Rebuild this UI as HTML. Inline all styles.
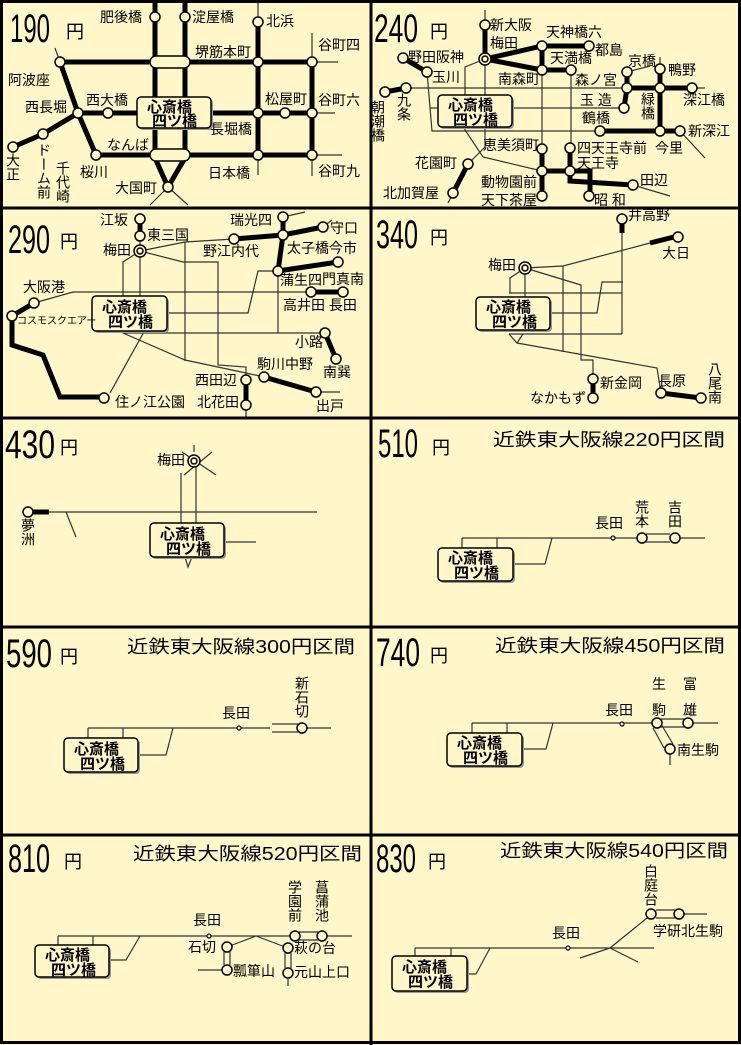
<!DOCTYPE html>
<html><head><meta charset="utf-8"><style>
html,body{margin:0;padding:0;background:#fff6c9}
svg{display:block}
text{font-family:"Liberation Sans","Noto Sans CJK JP",sans-serif;font-size:14px;fill:#000}
.v{writing-mode:vertical-rl}
.t{stroke:#000;stroke-width:5;fill:none;stroke-linejoin:miter}
.n{stroke:#333;stroke-width:1.2;fill:none}
.c{fill:#fff6c9;stroke:#000;stroke-width:1.5}
.big{font-size:40px}
.yen{font-size:18px}
.ti{font-size:18px}
.bx{font-weight:bold;font-size:15px}
.d{fill:#fff6c9;stroke:#000;stroke-width:1.2}
</style></head><body>
<svg width="741" height="1045" viewBox="0 0 741 1045" xmlns="http://www.w3.org/2000/svg">
<rect x="0" y="0" width="741" height="1045" fill="#fff6c9"/>

<!-- ===== 190 ===== -->
<g>
<path class="n" d="M258,0V22M258,155V175M312,33V62M312,155V176M312,62H338M312,113H335M312,155H342M55,48L60,62M168,187L150,205M168,187L188,205"/>
<path class="t" d="M155,0V155M185,0V155M258,22V155M312,62V155M60,62H312M78,113H312M96,155H312M60,62L78,113L96,155M78,113L43,134L13,147M155,158L168,187L185,158"/>
<rect x="150" y="56" width="40" height="12" rx="6" class="c"/>
<rect x="150" y="149" width="40" height="12" rx="6" class="c"/>
<g class="c"><circle cx="155" cy="17" r="5"/><circle cx="185" cy="17" r="5"/><circle cx="258" cy="22" r="5"/><circle cx="60" cy="62" r="5"/><circle cx="258" cy="62" r="5"/><circle cx="312" cy="62" r="5"/><circle cx="78" cy="113" r="5"/><circle cx="108" cy="113" r="5"/><circle cx="258" cy="113" r="5"/><circle cx="285" cy="113" r="5"/><circle cx="312" cy="113" r="5"/><circle cx="96" cy="155" r="5"/><circle cx="258" cy="155" r="5"/><circle cx="312" cy="155" r="5"/><circle cx="13" cy="147" r="5"/><circle cx="43" cy="134" r="5"/><circle cx="168" cy="187" r="5"/></g>
<g transform="translate(137,97)"><rect x="2" y="2" width="74" height="31" rx="4" fill="#999"/><rect x="0" y="0" width="74" height="31" rx="4" class="c"/><text x="10" y="15" class="bx">心斎橋</text><text x="15" y="29" class="bx">四ツ橋</text></g>
<text x="10" y="42" class="big" textLength="40" lengthAdjust="spacingAndGlyphs">190</text>
<text x="66" y="38" class="yen">円</text>
<text x="100" y="22">肥後橋</text><text x="192" y="22">淀屋橋</text><text x="266" y="26">北浜</text>
<text x="195" y="57">堺筋本町</text><text x="318" y="50">谷町四</text><text x="8" y="85">阿波座</text>
<text x="25" y="112">西長堀</text><text x="86" y="105">西大橋</text><text x="265" y="104">松屋町</text>
<text x="318" y="105">谷町六</text><text x="210" y="134">長堀橋</text><text x="107" y="150">なんば</text>
<text x="208" y="178">日本橋</text><text x="318" y="176">谷町九</text><text x="80" y="177">桜川</text><text x="115" y="193">大国町</text>
<text x="13" y="153" class="v">大正</text><text x="44" y="143" class="v">ドーム前</text><text x="63" y="161" class="v">千代崎</text>
</g>

<!-- ===== 240 ===== -->
<g>
<path class="n" d="M485,10V25M406,88H705M427,72L432,131H600M430,108H624M485,59V147L468,164M485,59L465,67V130L483,157L542,171M542,70V149M571,70V148M680,131L705,158M627,72L650,66M660,69V57M633,185L670,196M453,193L448,203"/>
<path class="t" d="M485,25V59M485,59L542,46H589M485,59L542,70H571M542,46V70M403,58L427,72M385,92L406,88M627,72V88L624,108M660,69V131M627,88H692M600,131H680M542,149V196M570,148V171M542,171H590V196M570,171V181L633,185M468,164L453,193"/>
<g class="c"><circle cx="485" cy="25" r="5"/><circle cx="485" cy="59" r="6"/><circle cx="485" cy="59" r="3"/><circle cx="542" cy="46" r="5"/><circle cx="589" cy="46" r="5"/><circle cx="542" cy="70" r="5"/><circle cx="571" cy="70" r="5"/><circle cx="403" cy="58" r="5"/><circle cx="427" cy="72" r="5"/><circle cx="406" cy="88" r="5"/><circle cx="385" cy="92" r="5"/><circle cx="627" cy="72" r="5"/><circle cx="660" cy="69" r="5"/><circle cx="627" cy="88" r="5"/><circle cx="660" cy="88" r="5"/><circle cx="692" cy="88" r="5"/><circle cx="624" cy="108" r="5"/><circle cx="600" cy="131" r="5"/><circle cx="660" cy="131" r="5"/><circle cx="680" cy="131" r="5"/><circle cx="542" cy="149" r="5"/><circle cx="542" cy="171" r="5"/><circle cx="542" cy="196" r="5"/><circle cx="570" cy="148" r="5"/><circle cx="570" cy="171" r="5"/><circle cx="589" cy="196" r="5"/><circle cx="633" cy="185" r="5"/><circle cx="468" cy="164" r="5"/><circle cx="453" cy="193" r="5"/></g>
<g transform="translate(438,95)"><rect x="2" y="2" width="74" height="32" rx="4" fill="#999"/><rect x="0" y="0" width="74" height="32" rx="4" class="c"/><text x="10" y="15" class="bx">心斎橋</text><text x="15" y="30" class="bx">四ツ橋</text></g>
<text x="374" y="42" class="big" textLength="44" lengthAdjust="spacingAndGlyphs">240</text>
<text x="430" y="38" class="yen">円</text>
<text x="490" y="30">新大阪</text><text x="490" y="48">梅田</text><text x="546" y="37">天神橋六</text><text x="595" y="55">都島</text>
<text x="550" y="63">天満橋</text><text x="628" y="66">京橋</text><text x="668" y="75">鴨野</text><text x="408" y="62">野田阪神</text>
<text x="432" y="82">玉川</text><text x="498" y="84">南森町</text><text x="575" y="85">森ノ宮</text>
<text x="404" y="93" class="v">九条</text><text x="378" y="100" class="v">朝潮橋</text>
<text x="580" y="105">玉 造</text><text x="648" y="92" class="v">緑橋</text><text x="683" y="105">深江橋</text>
<text x="582" y="123">鶴橋</text><text x="688" y="136">新深江</text><text x="483" y="150">恵美須町</text>
<text x="577" y="153">四天王寺前</text><text x="655" y="153">今里</text><text x="577" y="168">天王寺</text>
<text x="640" y="185">田辺</text><text x="415" y="168">花園町</text><text x="481" y="187">動物園前</text>
<text x="383" y="198">北加賀屋</text><text x="481" y="205">天下茶屋</text><text x="594" y="205">昭 和</text>
</g>

<!-- ===== 290 ===== -->
<g>
<path class="n" d="M140,236V251M283,217L305,212M323,227L332,220M246,405V418M316,392H340M140,251L185,242L234,239M140,251L183,262H218V365L246,367V380M185,242V361M140,251L123,262V333L185,360L246,373L264,377M123,333H325M168,313H248L258,271H278M278,271V333M145,330L110,393M34,303L73,292H311M140,251V296"/>
<path class="t" d="M140,219V236M234,239L283,235L323,227M283,217V235L278,271L338,262M311,292H343M325,333L336,359M264,377L316,392M246,380V405M34,303L12,316V345L43,355L60,397H104"/>
<g class="c"><circle cx="140" cy="219" r="5"/><circle cx="140" cy="236" r="5"/><circle cx="140" cy="251" r="6"/><circle cx="140" cy="251" r="3"/><circle cx="283" cy="217" r="5"/><circle cx="283" cy="235" r="5"/><circle cx="323" cy="227" r="5"/><circle cx="234" cy="239" r="5"/><circle cx="278" cy="271" r="5"/><circle cx="338" cy="262" r="5"/><circle cx="311" cy="292" r="5"/><circle cx="343" cy="292" r="5"/><circle cx="325" cy="333" r="5"/><circle cx="336" cy="359" r="5"/><circle cx="264" cy="377" r="5"/><circle cx="316" cy="392" r="5"/><circle cx="246" cy="380" r="5"/><circle cx="246" cy="405" r="5"/><circle cx="34" cy="303" r="5"/><circle cx="12" cy="316" r="5"/><circle cx="104" cy="398" r="5"/></g>
<g transform="translate(92,296)"><rect x="2" y="2" width="75" height="35" rx="4" fill="#999"/><rect x="0" y="0" width="75" height="35" rx="4" class="c"/><text x="10" y="16" class="bx">心斎橋</text><text x="16" y="31" class="bx">四ツ橋</text></g>
<text x="8" y="253" class="big" textLength="42" lengthAdjust="spacingAndGlyphs">290</text>
<text x="60" y="248" class="yen">円</text>
<text x="100" y="225">江坂</text><text x="147" y="240">東三国</text><text x="103" y="255">梅田</text>
<text x="230" y="225">瑞光四</text><text x="330" y="233">守口</text><text x="203" y="256">野江内代</text>
<text x="287" y="253">太子橋今市</text><text x="280" y="285">蒲生四</text><text x="322" y="284">門真南</text>
<text x="23" y="292">大阪港</text><text x="283" y="310">高井田 長田</text>
<text x="17" y="324" style="font-size:10px">コスモスクエアー</text>
<text x="295" y="347">小路</text><text x="323" y="377">南巽</text><text x="257" y="369">駒川中野</text>
<text x="195" y="385">西田辺</text><text x="316" y="411">出戸</text><text x="115" y="407">住ノ江公園</text><text x="197" y="407">北花田</text>
</g>

<!-- ===== 340 ===== -->
<g>
<path class="n" d="M622,233V334M525,268L563,266L650,243M563,266V352M525,268L581,285V360H593V378M509,293H622M509,334H622M552,313H597L602,282H623M525,268L510,278V293M525,268V297M509,334L517,343L523,334M517,343L657,368L661,393"/>
<path class="t" d="M622,224V233M650,243L674,237M593,384V393M661,393L701,398"/>
<g class="c"><circle cx="622" cy="219" r="5"/><circle cx="678" cy="237" r="5"/><circle cx="525" cy="268" r="6"/><circle cx="525" cy="268" r="3"/><circle cx="593" cy="379" r="5"/><circle cx="593" cy="398" r="5"/><circle cx="661" cy="393" r="5"/><circle cx="701" cy="398" r="5"/></g>
<g transform="translate(476,297)"><rect x="2" y="2" width="74" height="33" rx="4" fill="#999"/><rect x="0" y="0" width="74" height="33" rx="4" class="c"/><text x="10" y="15" class="bx">心斎橋</text><text x="16" y="30" class="bx">四ツ橋</text></g>
<text x="376" y="248" class="big" textLength="42" lengthAdjust="spacingAndGlyphs">340</text>
<text x="430" y="244" class="yen">円</text>
<text x="628" y="220">井高野</text><text x="662" y="258">大日</text><text x="488" y="270">梅田</text>
<text x="600" y="388">新金岡</text><text x="530" y="403">なかもず</text><text x="658" y="386">長原</text>
<text x="715" y="362" class="v">八尾南</text>
</g>

<!-- ===== 430 ===== -->
<g>
<path class="n" d="M49,512H317M66,512L76,537M181,473V523M196,466V523M182,452L216,475M212,452L184,475M194,445V452M224,542H256M185,557L188,567L192,557"/>
<path class="t" d="M33,512H49"/>
<g class="c"><circle cx="28" cy="512" r="5"/><circle cx="194" cy="461" r="6"/><circle cx="194" cy="461" r="3"/></g>
<g transform="translate(150,523)"><rect x="2" y="2" width="74" height="34" rx="4" fill="#999"/><rect x="0" y="0" width="74" height="34" rx="4" class="c"/><text x="10" y="16" class="bx">心斎橋</text><text x="16" y="31" class="bx">四ツ橋</text></g>
<text x="5" y="458" class="big" textLength="50" lengthAdjust="spacingAndGlyphs">430</text>
<text x="60" y="454" class="yen">円</text>
<text x="157" y="465">梅田</text><text x="28" y="518" class="v">夢洲</text>
</g>

<!-- ===== 510 ===== -->
<g>
<path class="n" d="M462,538H638M680,538H705M462,538V548M497,538V548M513,564H545L552,538M646,534H670M646,542H670"/>
<circle cx="613" cy="538" r="2" class="d"/>
<g class="c"><circle cx="642" cy="538" r="5"/><circle cx="675" cy="538" r="5"/></g>
<g transform="translate(438,548)"><rect x="2" y="2" width="75" height="33" rx="4" fill="#999"/><rect x="0" y="0" width="75" height="33" rx="4" class="c"/><text x="10" y="15" class="bx">心斎橋</text><text x="16" y="30" class="bx">四ツ橋</text></g>
<text x="378" y="457" class="big" textLength="40" lengthAdjust="spacingAndGlyphs">510</text>
<text x="432" y="454" class="yen">円</text>
<text x="493" y="446" class="ti" textLength="232" lengthAdjust="spacingAndGlyphs">近鉄東大阪線220円区間</text>
<text x="595" y="528">長田</text><text x="642" y="500" class="v">荒本</text><text x="675" y="500" class="v">吉田</text>
</g>

<!-- ===== 590 ===== -->
<g>
<path class="n" d="M88,728H270M88,728V738M123,728V738M138,755H166L173,728M272,724H298M272,732H298M307,728H331"/>
<circle cx="239" cy="728" r="2" class="d"/>
<circle cx="302" cy="728" r="5" class="c"/>
<g transform="translate(64,738)"><rect x="2" y="2" width="74" height="34" rx="4" fill="#999"/><rect x="0" y="0" width="74" height="34" rx="4" class="c"/><text x="10" y="16" class="bx">心斎橋</text><text x="16" y="31" class="bx">四ツ橋</text></g>
<text x="6" y="667" class="big" textLength="46" lengthAdjust="spacingAndGlyphs">590</text>
<text x="60" y="663" class="yen">円</text>
<text x="127" y="653" class="ti" textLength="228" lengthAdjust="spacingAndGlyphs">近鉄東大阪線300円区間</text>
<text x="222" y="718">長田</text><text x="302" y="676" class="v">新石切</text>
</g>

<!-- ===== 740 ===== -->
<g>
<path class="n" d="M472,723H652M693,723H718M472,723V733M507,723V733M522,749H546L553,723M661,719H684M661,727H684M653,728L664,748M661,724L673,744M670,754V765"/>
<circle cx="622" cy="724" r="2" class="d"/>
<g class="c"><circle cx="657" cy="723" r="5"/><circle cx="688" cy="723" r="5"/><circle cx="670" cy="749" r="5"/></g>
<g transform="translate(447,733)"><rect x="2" y="2" width="75" height="33" rx="4" fill="#999"/><rect x="0" y="0" width="75" height="33" rx="4" class="c"/><text x="10" y="15" class="bx">心斎橋</text><text x="16" y="30" class="bx">四ツ橋</text></g>
<text x="376" y="666" class="big" textLength="44" lengthAdjust="spacingAndGlyphs">740</text>
<text x="430" y="662" class="yen">円</text>
<text x="495" y="652" class="ti" textLength="230" lengthAdjust="spacingAndGlyphs">近鉄東大阪線450円区間</text>
<text x="605" y="715">長田</text>
<text x="652" y="689">生</text><text x="683" y="689">富</text>
<text x="652" y="715">駒</text><text x="683" y="715">雄</text>
<text x="677" y="755">南生駒</text>
</g>

<!-- ===== 810 ===== -->
<g>
<path class="n" d="M58,936H290M327,936H352M58,936V945M93,936V945M109,960H126L140,936M299,932H318M299,940H318M256,936L227,947M256,936L288,948M224,952V965M230,952V965M285,953V968M291,953V968M198,970H222M288,979V986"/>
<circle cx="209" cy="936" r="2" class="d"/>
<g class="c"><circle cx="295" cy="936" r="5"/><circle cx="322" cy="936" r="5"/><circle cx="227" cy="947" r="5"/><circle cx="227" cy="970" r="5"/><circle cx="288" cy="948" r="5"/><circle cx="288" cy="973" r="5"/></g>
<g transform="translate(35,945)"><rect x="2" y="2" width="74" height="32" rx="4" fill="#999"/><rect x="0" y="0" width="74" height="32" rx="4" class="c"/><text x="10" y="15" class="bx">心斎橋</text><text x="16" y="30" class="bx">四ツ橋</text></g>
<text x="8" y="872" class="big" textLength="42" lengthAdjust="spacingAndGlyphs">810</text>
<text x="64" y="868" class="yen">円</text>
<text x="133" y="860" class="ti" textLength="229" lengthAdjust="spacingAndGlyphs">近鉄東大阪線520円区間</text>
<text x="193" y="925">長田</text><text x="295" y="880" class="v">学園前</text><text x="322" y="880" class="v">菖蒲池</text>
<text x="188" y="952">石切</text><text x="233" y="976">瓢箪山</text><text x="294" y="953">萩の台</text><text x="294" y="977">元山上口</text>
</g>

<!-- ===== 830 ===== -->
<g>
<path class="n" d="M415,948H654M415,948V956M451,948V956M467,974H476L490,948M610,948L580,958M610,948L638,962M610,948L647,918M656,910H675M656,918H675M684,914H707"/>
<circle cx="568" cy="948" r="2" class="d"/>
<g class="c"><circle cx="651" cy="914" r="5"/><circle cx="679" cy="914" r="5"/></g>
<g transform="translate(392,956)"><rect x="2" y="2" width="75" height="35" rx="4" fill="#999"/><rect x="0" y="0" width="75" height="35" rx="4" class="c"/><text x="10" y="16" class="bx">心斎橋</text><text x="16" y="31" class="bx">四ツ橋</text></g>
<text x="376" y="872" class="big" textLength="40" lengthAdjust="spacingAndGlyphs">830</text>
<text x="428" y="868" class="yen">円</text>
<text x="500" y="857" class="ti" textLength="228" lengthAdjust="spacingAndGlyphs">近鉄東大阪線540円区間</text>
<text x="552" y="938">長田</text><text x="651" y="864" class="v">白庭台</text><text x="653" y="936">学研北生駒</text>
</g>

<!-- grid -->
<g stroke="#000" stroke-width="3" fill="none">
<rect x="1.5" y="1.5" width="738" height="1041"/>
<path d="M371,0V1045M0,208H741M0,418H741M0,627H741M0,835H741"/>
</g>
</svg>
</body></html>
